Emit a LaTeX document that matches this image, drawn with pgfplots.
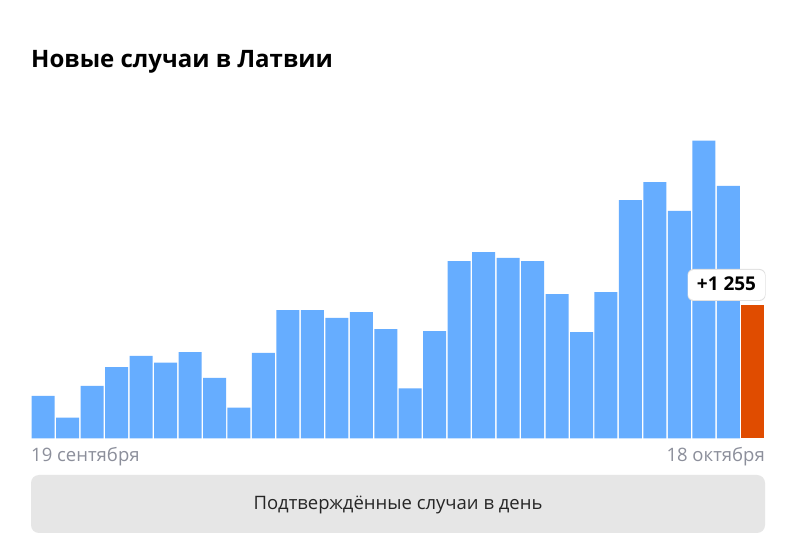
\documentclass[border=0pt]{standalone}
\usepackage{pgfplots}
\pgfplotsset{compat=1.18}
\usepackage{fontspec}
\setmainfont{Open Sans}
\definecolor{barblue}{RGB}{102,173,255}
\definecolor{barorange}{RGB}{224,76,0}
\definecolor{lblgray}{RGB}{140,143,155}
\definecolor{boxgray}{RGB}{230,230,230}
\begin{document}
\begin{tikzpicture}
\path[use as bounding box, fill=white] (0bp,0bp) rectangle (789bp,537bp);
\begin{axis}[
  at={(31bp,98.5bp)}, anchor=south west,
  scale only axis, width=734bp, height=319.1bp,
  axis lines=none, xtick=\empty, ytick=\empty,
  xmin=-0.5, xmax=29.5, ymin=0, ymax=3000,
  clip=false,
]
\addplot[ybar, bar width=0.94, bar shift=0pt, fill=barblue, draw=none] coordinates {
(0,400) (1,196) (2,494) (3,672) (4,776) (5,713) (6,813) (7,569) (8,290) (9,804)
(10,1208) (11,1208) (12,1133) (13,1189) (14,1029) (15,472) (16,1010) (17,1668) (18,1753) (19,1697)
(20,1668) (21,1358) (22,1001) (23,1377) (24,2242) (25,2411) (26,2139) (27,2800) (28,2374)
};
\addplot[ybar, bar width=0.94, bar shift=0pt, fill=barorange, draw=none] coordinates {(29,1255)};
\end{axis}
\node[anchor=base west, inner sep=0pt, font=\fontsize{24bp}{28bp}\selectfont\bfseries] at (31bp,469.5bp) {Новые случаи в Латвии};
\node[anchor=base west, inner sep=0pt, text=lblgray, font=\fontsize{18.5bp}{22bp}\selectfont] at (31bp,75bp) {19 сентября};
\node[anchor=base east, inner sep=0pt, text=lblgray, font=\fontsize{18.5bp}{22bp}\selectfont] at (765bp,75bp) {18 октября};
\fill[boxgray, rounded corners=8bp] (31bp,4bp) rectangle (765bp,62bp);
\node[anchor=base, inner sep=0pt, text=black!85, font=\fontsize{18.5bp}{22bp}\selectfont] at (398bp,28bp) {Подтверждённые случаи в день};
\fill[black!12, rounded corners=6bp] (687.5bp,236bp) rectangle (765.5bp,268bp);
\fill[white, rounded corners=6bp] (688bp,237bp) rectangle (765bp,267bp);
\node[anchor=base, inner sep=0pt, text=black, font=\fontsize{19bp}{22bp}\selectfont\bfseries] at (726.5bp,246.5bp) {+1 255};
\end{tikzpicture}
\end{document}
